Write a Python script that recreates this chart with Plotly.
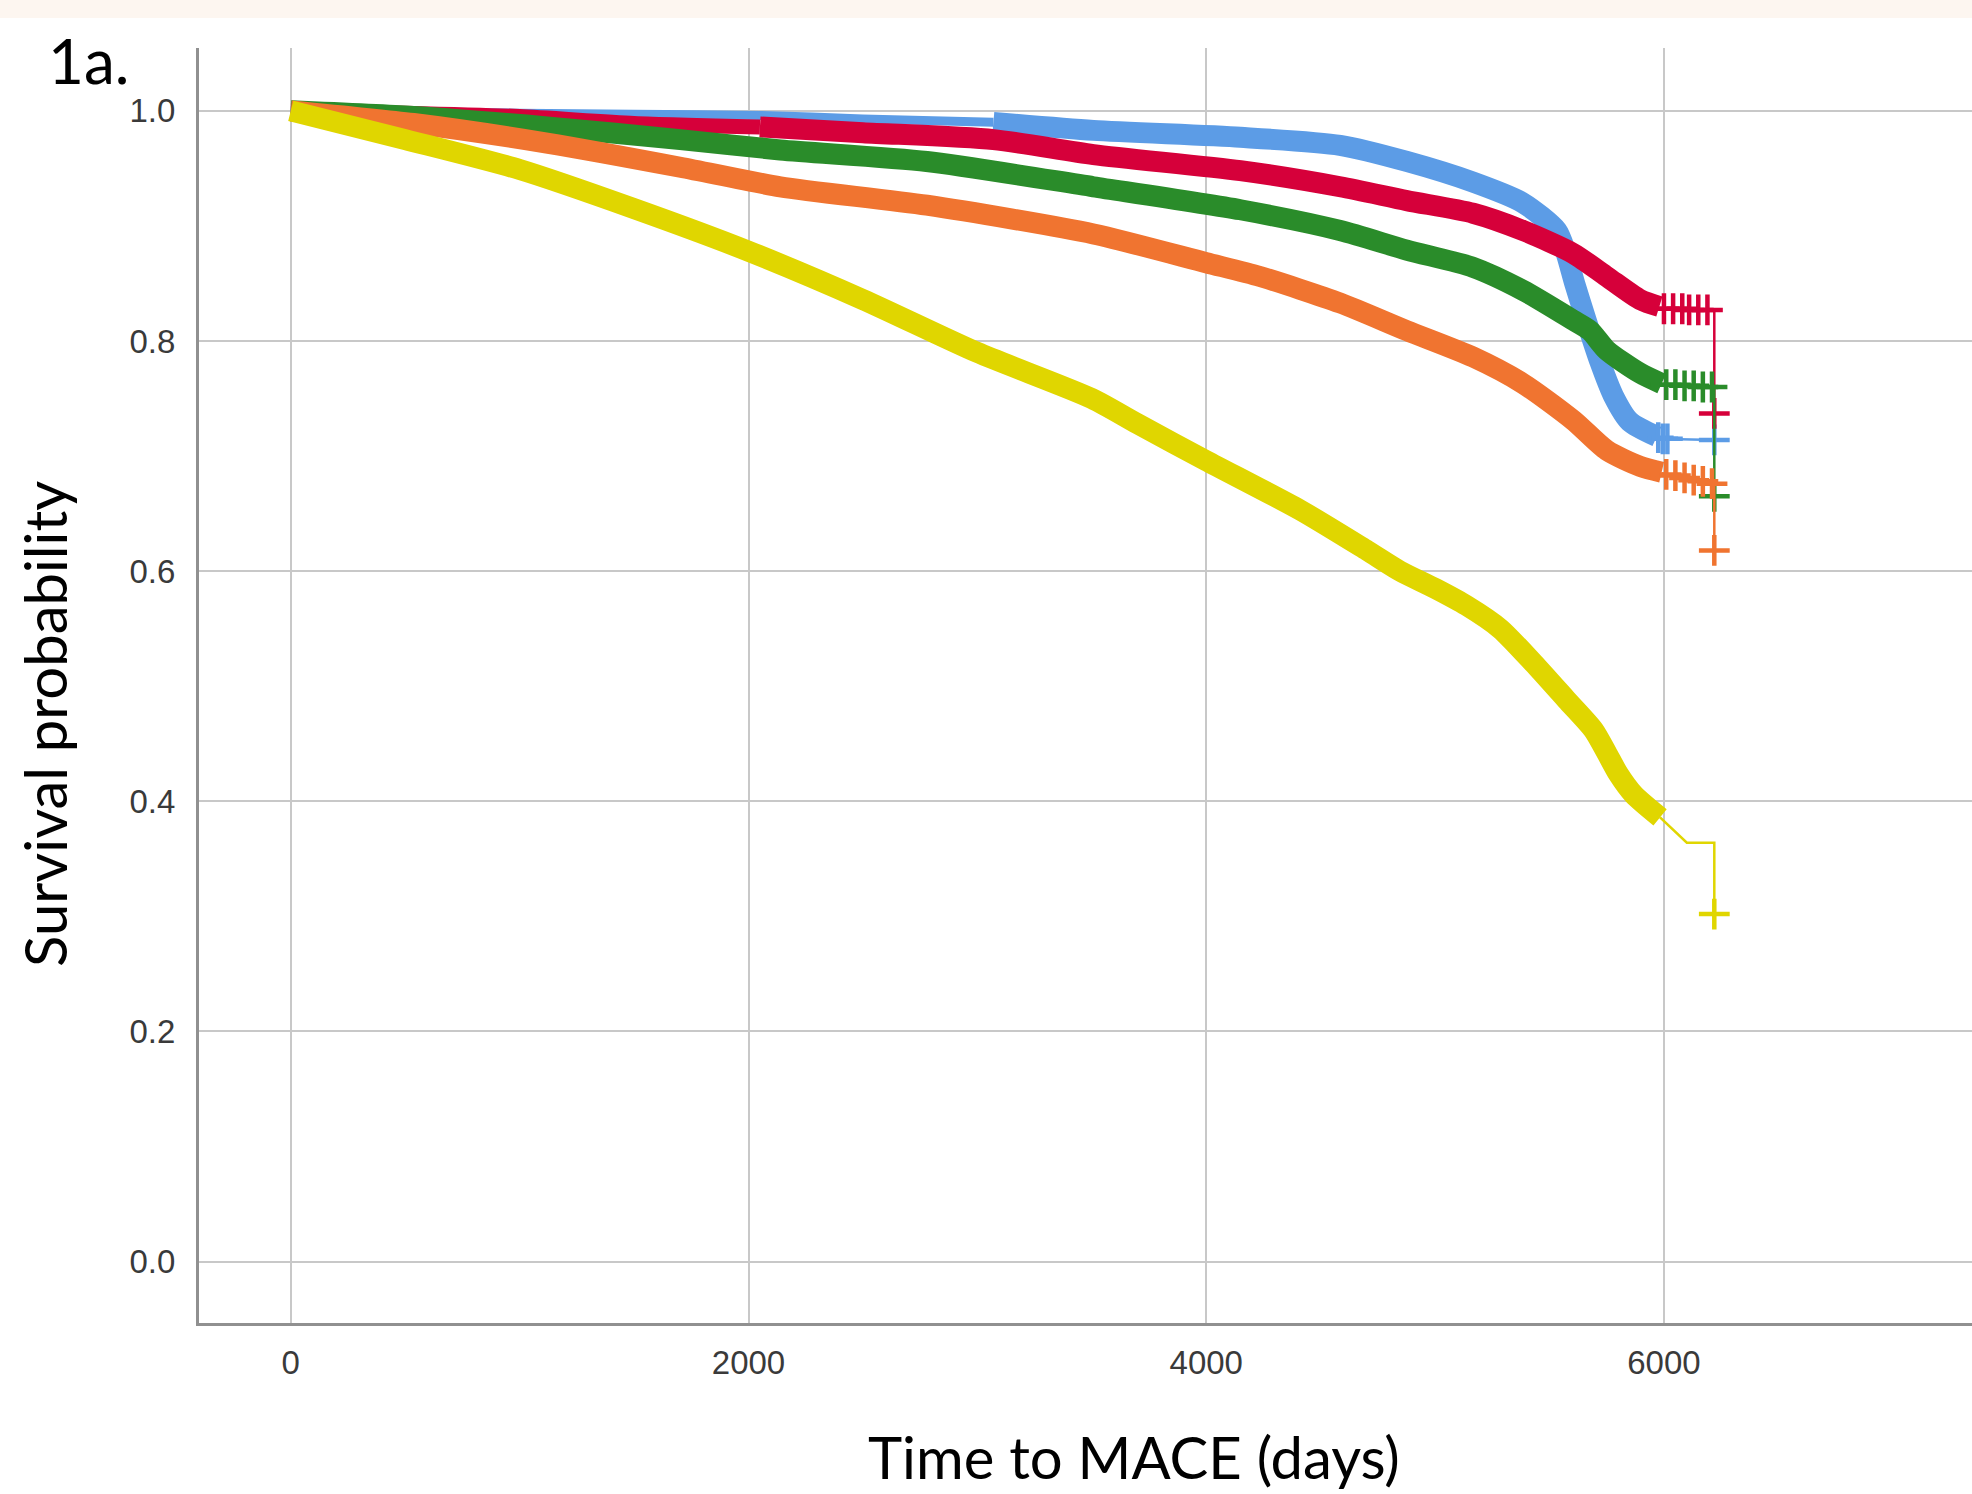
import plotly.graph_objects as go

# ---------------- data ----------------
x_tickvals = [0, 2000, 4000, 6000]
x_ticktext = ["0", "2000", "4000", "6000"]
y_tickvals = [0.0, 0.2, 0.4, 0.6, 0.8, 1.0]
y_ticktext = ["0.0", "0.2", "0.4", "0.6", "0.8", "1.0"]

# blue group
blue_early_t = [0, 500, 1000, 1500, 2050, 2500, 3070]
blue_early_s = [1.0, 0.999, 0.998, 0.997, 0.996, 0.993, 0.990]
blue_t = [3070, 3507, 4149, 4585, 4876, 5166, 5384, 5532, 5570, 5610, 5660, 5720, 5780, 5850, 5969]
blue_s = [0.990, 0.983, 0.977, 0.970, 0.956, 0.938, 0.920, 0.896, 0.878, 0.850, 0.818, 0.782, 0.752, 0.730, 0.717]
blue_tail_t = [5969, 6220, 6220]
blue_tail_s = [0.715, 0.714, 0.714]
blue_cens_t = [5975, 5995, 6015, 6220]
blue_cens_s = [0.716, 0.715, 0.715, 0.714]

# red group
red_early_t = [0, 500, 1000, 1500, 2050]
red_early_s = [1.0, 0.998, 0.995, 0.989, 0.986]
red_t = [2050, 2500, 3070, 3507, 4149, 4585, 4876, 5166, 5384, 5604, 5750, 5896, 5980]
red_s = [0.986, 0.981, 0.975, 0.962, 0.948, 0.934, 0.922, 0.911, 0.896, 0.876, 0.856, 0.836, 0.830]
red_tail_t = [5980, 6220, 6220]
red_tail_s = [0.828, 0.827, 0.737]
red_cens_t = [6000, 6040, 6080, 6110, 6150, 6190, 6220]
red_cens_s = [0.828, 0.828, 0.828, 0.827, 0.827, 0.827, 0.737]

# green group
green_t = [0, 536, 1119, 1702, 2139, 2779, 3507, 4149, 4585, 4876, 5166, 5384, 5604, 5677, 5750, 5896, 5990]
green_s = [1.0, 0.995, 0.986, 0.975, 0.966, 0.956, 0.934, 0.914, 0.896, 0.879, 0.864, 0.844, 0.818, 0.809, 0.792, 0.772, 0.763]
green_tail_t = [5990, 6220, 6220]
green_tail_s = [0.762, 0.760, 0.665]
green_cens_t = [6010, 6050, 6090, 6130, 6170, 6210, 6220]
green_cens_s = [0.762, 0.762, 0.761, 0.761, 0.760, 0.760, 0.665]

# orange group
orange_t = [0, 536, 1119, 1702, 2139, 2779, 3507, 4000, 4235, 4585, 4876, 5166, 5384, 5604, 5750, 5896, 5990]
orange_s = [1.0, 0.989, 0.972, 0.951, 0.934, 0.918, 0.893, 0.868, 0.856, 0.833, 0.809, 0.786, 0.763, 0.731, 0.705, 0.691, 0.686]
orange_tail_t = [5990, 6100, 6220, 6220]
orange_tail_s = [0.685, 0.681, 0.676, 0.618]
orange_cens_t = [6010, 6050, 6090, 6130, 6170, 6210, 6220]
orange_cens_s = [0.684, 0.683, 0.681, 0.679, 0.678, 0.676, 0.618]

# yellow group
yellow_t = [0, 500, 1000, 1500, 2000, 2500, 3000, 3500, 3700, 4000, 4411, 4702, 4847, 5000, 5138, 5284,
            5430, 5575, 5692, 5750, 5800, 5867, 5983]
yellow_s = [1.0, 0.975, 0.949, 0.915, 0.878, 0.836, 0.790, 0.750, 0.728, 0.696, 0.653, 0.618, 0.600,
            0.585, 0.570, 0.550, 0.520, 0.488, 0.462, 0.442, 0.424, 0.406, 0.386]
yellow_tail_t = [5983, 6041, 6100, 6220, 6220]
yellow_tail_s = [0.386, 0.375, 0.364, 0.364, 0.302]
yellow_cens_t = [6220]
yellow_cens_s = [0.302]

# ---------------- styles ----------------
C_BLUE = "#5C9CE6"
C_RED = "#D6003A"
C_GREEN = "#2A8C2A"
C_ORANGE = "#F07430"
C_YELLOW = "#E0D600"

W, H = 1972, 1494
L, R, T, B = 199, 0, 48, 171
PW, PH = W - L - R, H - T - B


def px2paper_x(px):
    return (px - L) / PW


def px2paper_y(py):
    return (H - B - py) / PH


fig = go.Figure()


def band(t, s, color, width):
    fig.add_trace(go.Scatter(x=t, y=s, mode="lines",
                             line=dict(color=color, width=width, shape="spline", smoothing=0.7),
                             hoverinfo="skip", showlegend=False))


def tail(t, s, color):
    fig.add_trace(go.Scatter(x=t, y=s, mode="lines",
                             line=dict(color=color, width=2.5),
                             hoverinfo="skip", showlegend=False))


def cens(t, s, color):
    fig.add_trace(go.Scatter(x=t, y=s, mode="markers",
                             marker=dict(symbol="cross-thin", size=22,
                                         line=dict(color=color, width=4.5)),
                             hoverinfo="skip", showlegend=False))


# draw order: blue, red, green, orange, yellow (yellow on top)
band(blue_early_t, blue_early_s, C_BLUE, 9)
band(blue_t, blue_s, C_BLUE, 21)
tail(blue_tail_t, blue_tail_s, C_BLUE)
cens(blue_cens_t, blue_cens_s, C_BLUE)

band(red_early_t, red_early_s, C_RED, 15)
band(red_t, red_s, C_RED, 21)
tail(red_tail_t, red_tail_s, C_RED)
cens(red_cens_t, red_cens_s, C_RED)

band(green_t, green_s, C_GREEN, 21)
tail(green_tail_t, green_tail_s, C_GREEN)
cens(green_cens_t, green_cens_s, C_GREEN)

band(orange_t, orange_s, C_ORANGE, 21)
tail(orange_tail_t, orange_tail_s, C_ORANGE)
cens(orange_cens_t, orange_cens_s, C_ORANGE)

band(yellow_t, yellow_s, C_YELLOW, 21)
tail(yellow_tail_t, yellow_tail_s, C_YELLOW)
cens(yellow_cens_t, yellow_cens_s, C_YELLOW)

tick_font = dict(family="Liberation Sans, Arial, sans-serif", size=33, color="#3a3a3a")
title_font = dict(family="Lato, Open Sans, sans-serif", size=58, color="#000000")

fig.update_layout(
    width=W, height=H,
    margin=dict(l=L, r=R, t=T, b=B, pad=0),
    paper_bgcolor="white", plot_bgcolor="white",
    xaxis=dict(range=[-401, 7346], tickmode="array", tickvals=x_tickvals, ticktext=x_ticktext,
               showgrid=True, gridcolor="#c8c8c8", gridwidth=2, zeroline=False,
               showline=True, linecolor="#909090", linewidth=3, ticks="",
               tickfont=tick_font, ticklabelstandoff=8, automargin=False),
    yaxis=dict(range=[-0.0534, 1.0546], tickmode="array", tickvals=y_tickvals, ticktext=y_ticktext,
               showgrid=True, gridcolor="#c8c8c8", gridwidth=2, zeroline=False,
               showline=True, linecolor="#909090", linewidth=3, ticks="",
               tickfont=tick_font, ticklabelstandoff=14, automargin=False),
    shapes=[dict(type="rect", xref="paper", yref="paper",
                 x0=px2paper_x(-5), x1=px2paper_x(W + 5),
                 y0=px2paper_y(18), y1=px2paper_y(-5),
                 fillcolor="#FDF6F0", line=dict(width=0), layer="below")],
    annotations=[
        dict(text="Time to MACE (days)", xref="paper", yref="paper",
             x=px2paper_x(1134), y=px2paper_y(1456), xanchor="center", yanchor="middle",
             showarrow=False, font=title_font),
        dict(text="Survival probability", xref="paper", yref="paper",
             x=px2paper_x(44), y=px2paper_y(724), xanchor="center", yanchor="middle",
             textangle=-90, showarrow=False, font=title_font),
        dict(text="1a.", xref="paper", yref="paper",
             x=px2paper_x(46), y=px2paper_y(60), xanchor="left", yanchor="middle",
             showarrow=False, font=dict(family="Lato, Open Sans, sans-serif", size=62, color="#000000")),
    ],
)

fig.write_html("out.html", config={"displayModeBar": False},
               post_script="document.body.style.margin='0';document.body.style.padding='0';"
                           "document.body.style.overflow='hidden';")
